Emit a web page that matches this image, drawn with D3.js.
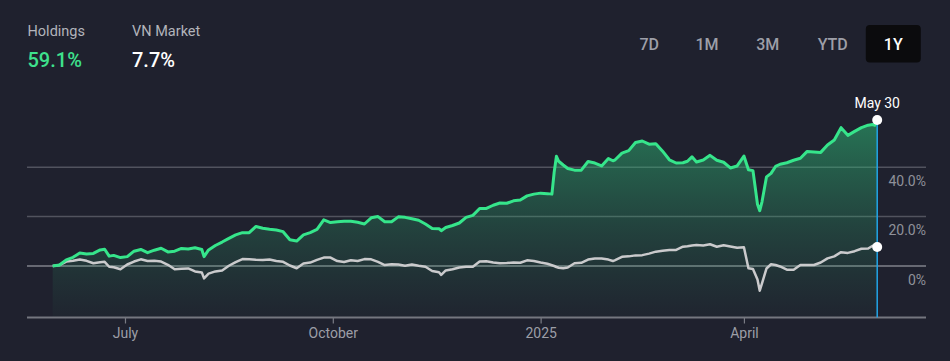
<!DOCTYPE html>
<html>
<head>
<meta charset="utf-8">
<script src="https://cdn.jsdelivr.net/npm/d3@7"></script>
<style>
  html, body { margin: 0; padding: 0; background: #1f212e; }
  svg { display: block; font-family: Roboto, "Noto Sans", sans-serif; }
</style>
</head>
<body>
<svg id="chart" width="950" height="361"></svg>
<script>
const dates = ["2024-05-30","2024-06-02","2024-06-05","2024-06-08","2024-06-11","2024-06-14","2024-06-17","2024-06-20","2024-06-22","2024-06-24","2024-06-26","2024-06-29","2024-07-02","2024-07-05","2024-07-08","2024-07-11","2024-07-14","2024-07-17","2024-07-20","2024-07-23","2024-07-26","2024-07-29","2024-08-01","2024-08-04","2024-08-05","2024-08-07","2024-08-10","2024-08-13","2024-08-16","2024-08-19","2024-08-22","2024-08-25","2024-08-28","2024-08-31","2024-09-03","2024-09-06","2024-09-09","2024-09-12","2024-09-15","2024-09-18","2024-09-21","2024-09-24","2024-09-27","2024-09-30","2024-10-03","2024-10-06","2024-10-09","2024-10-12","2024-10-15","2024-10-18","2024-10-21","2024-10-24","2024-10-27","2024-10-30","2024-11-02","2024-11-05","2024-11-08","2024-11-11","2024-11-14","2024-11-17","2024-11-18","2024-11-20","2024-11-23","2024-11-26","2024-11-29","2024-12-02","2024-12-05","2024-12-08","2024-12-11","2024-12-14","2024-12-17","2024-12-20","2024-12-23","2024-12-26","2024-12-29","2025-01-01","2025-01-04","2025-01-06","2025-01-07","2025-01-08","2025-01-09","2025-01-11","2025-01-13","2025-01-16","2025-01-19","2025-01-22","2025-01-25","2025-01-28","2025-01-31","2025-02-02","2025-02-03","2025-02-06","2025-02-09","2025-02-12","2025-02-15","2025-02-18","2025-02-21","2025-02-24","2025-02-27","2025-03-02","2025-03-05","2025-03-07","2025-03-09","2025-03-11","2025-03-14","2025-03-17","2025-03-20","2025-03-23","2025-03-26","2025-03-29","2025-04-01","2025-04-03","2025-04-05","2025-04-07","2025-04-08","2025-04-09","2025-04-11","2025-04-13","2025-04-15","2025-04-17","2025-04-20","2025-04-23","2025-04-26","2025-04-29","2025-05-02","2025-05-05","2025-05-08","2025-05-11","2025-05-14","2025-05-17","2025-05-20","2025-05-23","2025-05-26","2025-05-28","2025-05-29","2025-05-30"];

const holdings = [0,0.4,2.5,3.5,5.3,4.9,5.1,6.5,6.8,4.0,4.3,3.4,3.8,6.0,6.7,5.4,6.4,7.2,5.7,6.0,7.1,6.9,7.4,6.7,3.8,6.5,8.3,9.7,11.2,12.6,13.5,13.5,16.0,15.3,14.9,14.6,13.9,10.6,10.1,12.6,13.5,14.8,18.7,17.6,17.9,18.1,18.1,17.7,17.0,19.5,20.0,17.9,17.9,19.9,19.7,19.1,18.5,17.0,15.2,15.1,14.3,15.6,16.4,17.4,19.7,20.5,23.3,23.3,24.6,25.5,25.4,26.4,26.7,28.4,29.1,29.5,29.3,29.1,38.0,44.4,42.4,40.9,39.5,38.8,38.8,42.3,41.7,40.5,43.5,42.6,43.0,45.7,46.7,50.0,50.6,49.3,49.5,46.5,43.0,41.7,41.8,42.4,44.2,42.1,42.9,44.8,42.8,42.0,39.7,40.5,44.5,39.0,38.6,25.0,22.4,26.0,36.1,37.5,40.3,41.2,41.8,42.8,43.6,46.4,46.2,46.0,49.0,51.0,56.0,52.9,54.5,56.0,57.0,57.3,57.0,59.1];

const vnMarket = [0,0.4,1.8,2.1,2.6,2.1,1.1,1.5,1.7,-0.3,-0.5,-1.3,0.6,1.8,2.7,2.0,2.1,1.8,0.5,-1.3,-1.1,-1.0,-2.2,-2.6,-5.0,-3.1,-2.2,-1.8,0.1,1.6,2.8,2.7,2.5,2.4,2.6,2.0,1.7,0.2,-0.9,1.0,1.4,2.5,3.4,3.4,2.0,1.6,2.3,2.0,2.8,2.7,1.7,0.4,0.7,0.6,0.1,0.6,0.1,-0.3,-2.0,-2.5,-3.6,-1.8,-1.3,-0.6,-0.3,-0.3,1.8,1.9,1.4,1.1,1.2,1.4,1.3,2.3,2.0,1.4,0.9,0.3,0.0,-0.4,-0.7,-0.9,-0.6,1.1,1.3,2.6,3.0,3.0,2.6,2.0,2.4,3.7,3.9,4.3,4.4,5.0,5.8,6.2,6.5,6.5,7.8,8.0,8.3,8.5,8.3,8.8,7.8,8.4,7.9,7.4,7.6,-0.9,-1.2,-5.5,-10.0,-7.0,-1.0,0.7,0.4,-0.2,-1.5,-1.5,0.4,0.4,0.4,1.4,3.1,3.9,5.6,5.3,6.0,7.0,7.1,8.2,8.0,7.7];

const yTicks = [0, 20, 40];
const yTickLabels = ["0%", "20.0%", "40.0%"];
const xTickDates = ["2024-07-01", "2024-10-01", "2025-01-01", "2025-04-01"];
const xTickLabels = ["July", "October", "2025", "April"];
const ranges = ["7D", "1M", "3M", "YTD", "1Y"];
const activeRange = "1Y";
const summary = [
  {label: "Holdings", value: "59.1%", color: "#3ee18d"},
  {label: "VN Market", value: "7.7%", color: "#ffffff"}
];
const endLabel = "May 30";

const parse = d3.timeParse("%Y-%m-%d");
const dts = dates.map(parse);
const svg = d3.select("#chart");

const x = d3.scaleTime().domain([dts[0], dts[dts.length - 1]]).range([52.7, 877.2]);
const y = d3.scaleLinear().domain([-20.85, 60]).range([317.5, 117.8]);
const plotLeft = 27, plotRight = 926, plotBottom = 317.5;

// gradient
const defs = svg.append("defs");
const grad = defs.append("linearGradient").attr("id", "gfill")
  .attr("gradientUnits", "userSpaceOnUse").attr("x1", 0).attr("x2", 0)
  .attr("y1", y(59)).attr("y2", plotBottom);
grad.append("stop").attr("offset", "0%").attr("stop-color", "rgb(46,195,122)").attr("stop-opacity", 0.52);
grad.append("stop").attr("offset", "55%").attr("stop-color", "rgb(46,170,110)").attr("stop-opacity", 0.24);
grad.append("stop").attr("offset", "100%").attr("stop-color", "rgb(46,150,100)").attr("stop-opacity", 0.03);

// gridlines
svg.append("g").selectAll("line").data(yTicks).join("line")
  .attr("x1", plotLeft).attr("x2", plotRight)
  .attr("y1", d => y(d)).attr("y2", d => y(d))
  .attr("stroke", d => d === 0 ? "#80828b" : "#51535e")
  .attr("stroke-width", 1.5);

// y labels
svg.append("g").selectAll("text").data(yTicks).join("text")
  .attr("x", plotRight).attr("y", d => y(d) + 18.5)
  .attr("text-anchor", "end").attr("fill", "#8f919a")
  .attr("font-size", 14)
  .text((d, i) => yTickLabels[i]);

// area
const area = d3.area().x((d, i) => x(dts[i])).y0(plotBottom).y1(d => y(d));
svg.append("path").datum(holdings).attr("d", area).attr("fill", "url(#gfill)");

// x axis
const xAxis = d3.axisBottom(x).tickValues(xTickDates.map(parse))
  .tickFormat((d, i) => xTickLabels[i]).tickSize(6).tickSizeOuter(0);
const gx = svg.append("g").attr("transform", `translate(0,${plotBottom})`).call(xAxis);
gx.select(".domain").remove();
gx.selectAll(".tick line").attr("stroke", "#7a7c85").attr("stroke-width", 1.2);
gx.selectAll(".tick text").attr("fill", "#9c9ea7").attr("font-size", 14)
  .attr("font-family", "Roboto, sans-serif").attr("dy", "0.85em");
svg.append("line").attr("x1", plotLeft).attr("x2", plotRight)
  .attr("y1", plotBottom).attr("y2", plotBottom)
  .attr("stroke", "#74767f").attr("stroke-width", 2);

// lines
const line = d3.line().x((d, i) => x(dts[i])).y(d => y(d));
svg.append("path").datum(vnMarket).attr("d", line)
  .attr("fill", "none").attr("stroke", "#cacacc").attr("stroke-width", 2.5).attr("stroke-linejoin", "round");
svg.append("path").datum(holdings).attr("d", line)
  .attr("fill", "none").attr("stroke", "#36e58b").attr("stroke-width", 3).attr("stroke-linejoin", "round");

// crosshair
const lastDate = dts[dts.length - 1];
svg.append("line").attr("x1", x(lastDate)).attr("x2", x(lastDate))
  .attr("y1", y(holdings[holdings.length - 1])).attr("y2", plotBottom)
  .attr("stroke", "#22a6e8").attr("stroke-width", 1.5);
svg.append("g").selectAll("circle")
  .data([holdings[holdings.length - 1], vnMarket[vnMarket.length - 1]]).join("circle")
  .attr("cx", x(lastDate)).attr("cy", d => y(d)).attr("r", 5).attr("fill", "#ffffff");
svg.append("text").attr("x", x(lastDate)).attr("y", 108)
  .attr("text-anchor", "middle").attr("fill", "#ffffff").attr("font-size", 14)
  .text(endLabel);

// summary
const sg = svg.append("g").selectAll("g").data(summary).join("g")
  .attr("transform", (d, i) => `translate(${[27.5, 132][i]},0)`);
sg.append("text").attr("y", 36).attr("fill", "#b2b4bb").attr("font-size", 14.5).text(d => d.label);
sg.append("text").attr("y", 66.5).attr("fill", d => d.color).attr("font-size", 20)
  .attr("font-weight", 500).text(d => d.value);

// range buttons
const btnX = [649.3, 707, 767.7, 832.7, 893.3];
const bg = svg.append("g").selectAll("g").data(ranges).join("g");
bg.filter(d => d === activeRange).append("rect")
  .attr("x", (d) => btnX[ranges.indexOf(d)] - 27.5).attr("y", 25)
  .attr("width", 55).attr("height", 37.5).attr("rx", 4).attr("fill", "#0b0b0d");
bg.append("text").attr("x", (d, i) => btnX[i]).attr("y", 49.5)
  .attr("text-anchor", "middle").attr("font-size", 16).attr("font-weight", 500)
  .attr("fill", d => d === activeRange ? "#ffffff" : "#9d9fa8").text(d => d);
</script>
</body>
</html>
